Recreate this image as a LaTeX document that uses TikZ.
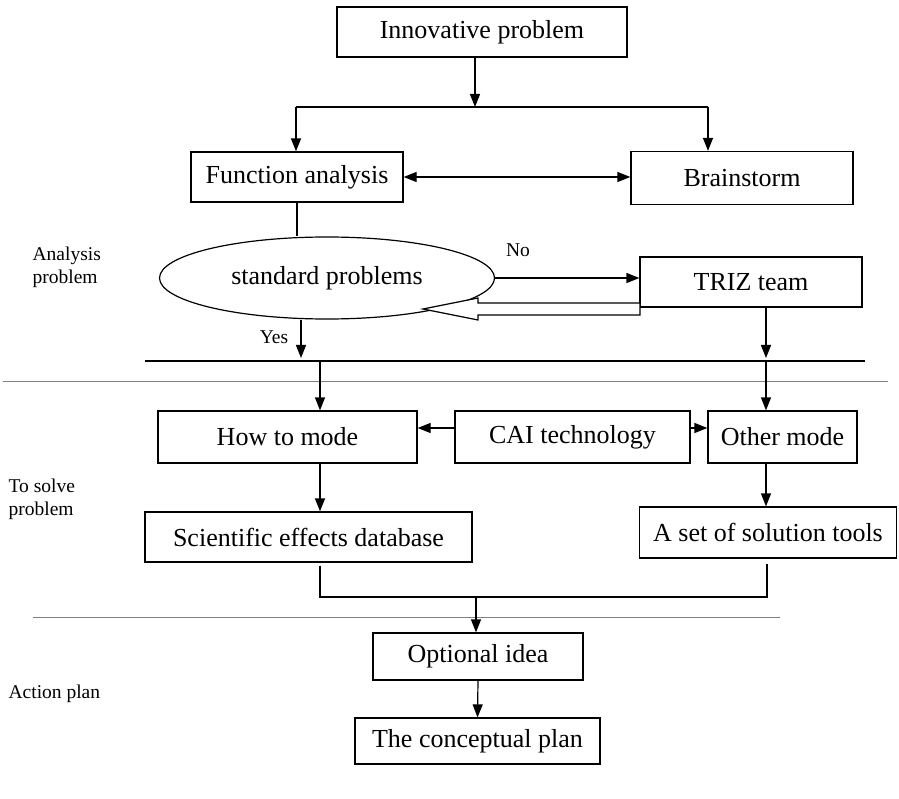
\documentclass[tikz,border=0pt]{standalone}
\usepackage{fontspec}
\setmainfont{Liberation Serif}
\usetikzlibrary{arrows.meta,shapes.geometric}
\begin{document}
\begin{tikzpicture}[x=1pt,y=-1pt,line width=1.2pt,
    box/.style={draw,minimum height=50pt,inner sep=0pt,font=\fontsize{26}{30}\selectfont},
    side/.style={align=left,anchor=north west,inner sep=0pt,font=\fontsize{19.5}{23}\selectfont},
    tag/.style={inner sep=0pt,font=\fontsize{19.5}{23}\selectfont},
    arr/.style={-{Triangle[length=13pt,width=10pt]}},
    sep/.style={gray,line width=0.8pt}]
  \useasboundingbox (0,0) rectangle (899,799);
  % boxes
  \node[box,minimum width=290pt] (innov) at (482,32) {Innovative problem};
  \node[box,minimum width=212pt] (func) at (297,177) {Function analysis};
  \node[box,minimum width=222pt,minimum height=53pt] (brain) at (742,178) {Brainstorm};
  \node[draw,ellipse,minimum width=335pt,minimum height=82pt,inner sep=0pt,
    font=\fontsize{26}{30}\selectfont] (std) at (327,278) {standard problems};
  \node[box,minimum width=222pt] (triz) at (751,282) {TRIZ team};
  \node[box,minimum width=259pt,minimum height=52pt] (how) at (287.5,437) {How to mode};
  \node[box,minimum width=235pt,minimum height=52pt] (cai) at (572.5,437) {CAI technology};
  \node[box,minimum width=149pt,minimum height=52pt] (other) at (782.5,437) {Other mode};
  \node[box,minimum width=327pt] (sci) at (308.5,537) {Scientific effects database};
  \node[box,minimum width=257pt,minimum height=51pt] (tools) at (768,532.5) {A set of solution tools};
  \node[box,minimum width=210pt,minimum height=47pt] (opt) at (478,656.5) {Optional idea};
  \node[box,minimum width=245pt,minimum height=46pt] (plan) at (477.5,741) {The conceptual plan};
  % labels
  \node[tag] (no) at (518,250) {No};
  \node[tag] (yes) at (274,337) {Yes};
  \node[side] (lab1) at (32,246) {Analysis\\problem};
  \node[side] (lab2) at (8,478) {To solve\\problem};
  \node[side] (lab3) at (8,684) {Action plan};
  % junction points
  \coordinate (fork) at (475,107);
  \coordinate (fl) at (296,107);
  \coordinate (fr) at (708,107);
  \coordinate (ya) at (301,358);
  \coordinate (ba) at (145,361);
  \coordinate (bb) at (865,361);
  \coordinate (lc) at (320,361);
  \coordinate (rc) at (766,358);
  \coordinate (cw) at ([yshift=9pt]cai.west);
  \coordinate (ce) at ([yshift=9pt]cai.east);
  \coordinate (jl) at (320,597);
  \coordinate (jr) at (767,597);
  \coordinate (jm) at (476,597);
  % connectors
  \draw[arr] (fork |- innov.south) -- (fork);
  \draw (fl) -- (fr);
  \draw[arr] (fl) -- (fl |- func.north);
  \draw[arr] (fr) -- (fr |- brain.north);
  \draw[{Triangle[length=13pt,width=10pt]}-{Triangle[length=13pt,width=10pt]}] (func.east) -- (func.east -| brain.west);
  \draw (func.south) -- (func.south |- std.north);
  \draw[arr] (std.east) -- (std.east -| triz.west);
  \draw[fill=white] (640,303) -- (478,303) -- (478,298) -- (423,309) -- (478,320) -- (478,315) -- (640,315) -- cycle;
  \draw[arr] (std.south -| ya) -- (ya);
  \draw (ba) -- (bb);
  \draw[arr] (triz.south -| rc) -- (rc);
  \draw[sep] (3,381) -- (888,381);
  \draw[arr] (lc) -- (lc |- how.north);
  \draw[arr] (lc -| rc) -- (rc |- other.north);
  \draw[arr] (cw) -- (cw -| how.east);
  \draw[arr] (ce) -- (ce -| other.west);
  \draw[arr] (lc |- how.south) -- (lc |- sci.north);
  \draw[arr] (rc |- other.south) -- (rc |- tools.north);
  \draw ([yshift=-3pt]jl |- sci.south) -- (jl) -- (jr) -- ([yshift=-5pt]jr |- tools.south);
  \draw[sep] (33,617) -- (780,617);
  \draw[arr] (jm) -- (jm |- opt.north);
  \draw[arr] (opt.south) -- (plan.north);
\end{tikzpicture}
\end{document}
